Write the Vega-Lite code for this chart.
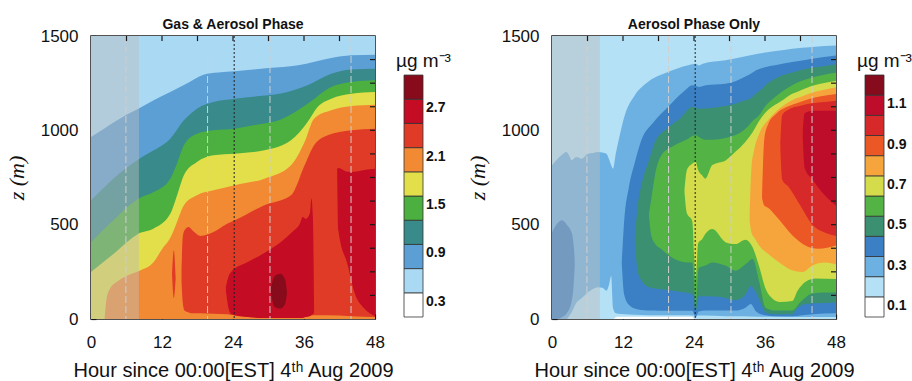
{
  "$schema": "https://vega.github.io/schema/vega-lite/v6.json",
  "background": "white",
  "padding": {"left": 4, "top": 17, "right": 0, "bottom": 0},
  "resolve": {"scale": {"fill": "independent"}},
  "datasets": {
    "L": [
      {"p":"a","c":1,"t":0,"lo":0,"hi":1500},{"p":"a","c":1,"t":48,"lo":0,"hi":1500},
      {"p":"b","c":2,"t":0,"lo":0,"hi":965},{"p":"b","c":2,"t":2,"lo":0,"hi":1005},{"p":"b","c":2,"t":4,"lo":0,"hi":1045},{"p":"b","c":2,"t":6,"lo":0,"hi":1082},{"p":"b","c":2,"t":8,"lo":0,"hi":1115},{"p":"b","c":2,"t":10.6,"lo":0,"hi":1159},{"p":"b","c":2,"t":13.4,"lo":0,"hi":1203},{"p":"b","c":2,"t":16.2,"lo":0,"hi":1248},{"p":"b","c":2,"t":19,"lo":0,"hi":1295},{"p":"b","c":2,"t":21.5,"lo":0,"hi":1306},{"p":"b","c":2,"t":24.3,"lo":0,"hi":1313},{"p":"b","c":2,"t":30,"lo":0,"hi":1330},{"p":"b","c":2,"t":35,"lo":0,"hi":1345},{"p":"b","c":2,"t":40.6,"lo":0,"hi":1384},{"p":"b","c":2,"t":44,"lo":0,"hi":1398},{"p":"b","c":2,"t":48,"lo":0,"hi":1401},
      {"p":"c","c":3,"t":0,"lo":0,"hi":629},{"p":"c","c":3,"t":2,"lo":0,"hi":690},{"p":"c","c":3,"t":4,"lo":0,"hi":750},{"p":"c","c":3,"t":6,"lo":0,"hi":800},{"p":"c","c":3,"t":8,"lo":0,"hi":845},{"p":"c","c":3,"t":10.6,"lo":0,"hi":894},{"p":"c","c":3,"t":13.4,"lo":0,"hi":956},{"p":"c","c":3,"t":15.7,"lo":0,"hi":1053},{"p":"c","c":3,"t":17.9,"lo":0,"hi":1115},{"p":"c","c":3,"t":20.7,"lo":0,"hi":1150},{"p":"c","c":3,"t":24.3,"lo":0,"hi":1168},{"p":"c","c":3,"t":28,"lo":0,"hi":1180},{"p":"c","c":3,"t":32.1,"lo":0,"hi":1195},{"p":"c","c":3,"t":36.6,"lo":0,"hi":1239},{"p":"c","c":3,"t":40.6,"lo":0,"hi":1300},{"p":"c","c":3,"t":44,"lo":0,"hi":1323},{"p":"c","c":3,"t":48,"lo":0,"hi":1327},
      {"p":"d","c":4,"t":0,"lo":0,"hi":405},{"p":"d","c":4,"t":2,"lo":0,"hi":470},{"p":"d","c":4,"t":4,"lo":0,"hi":530},{"p":"d","c":4,"t":6,"lo":0,"hi":590},{"p":"d","c":4,"t":8,"lo":0,"hi":638},{"p":"d","c":4,"t":10.6,"lo":0,"hi":673},{"p":"d","c":4,"t":13.4,"lo":0,"hi":744},{"p":"d","c":4,"t":14.6,"lo":0,"hi":830},{"p":"d","c":4,"t":15.7,"lo":0,"hi":921},{"p":"d","c":4,"t":17.9,"lo":0,"hi":982},{"p":"d","c":4,"t":20.7,"lo":0,"hi":1000},{"p":"d","c":4,"t":24.3,"lo":0,"hi":1009},{"p":"d","c":4,"t":28,"lo":0,"hi":1030},{"p":"d","c":4,"t":32.1,"lo":0,"hi":1058},{"p":"d","c":4,"t":36.6,"lo":0,"hi":1141},{"p":"d","c":4,"t":40.6,"lo":0,"hi":1230},{"p":"d","c":4,"t":44,"lo":0,"hi":1256},{"p":"d","c":4,"t":48,"lo":0,"hi":1265},
      {"p":"e","c":5,"t":0,"lo":0,"hi":249},{"p":"e","c":5,"t":2,"lo":0,"hi":300},{"p":"e","c":5,"t":4,"lo":0,"hi":350},{"p":"e","c":5,"t":6,"lo":0,"hi":405},{"p":"e","c":5,"t":8,"lo":0,"hi":452},{"p":"e","c":5,"t":10.6,"lo":0,"hi":480},{"p":"e","c":5,"t":13.4,"lo":0,"hi":558},{"p":"e","c":5,"t":14.6,"lo":0,"hi":660},{"p":"e","c":5,"t":15.7,"lo":0,"hi":762},{"p":"e","c":5,"t":17.9,"lo":0,"hi":832},{"p":"e","c":5,"t":20.7,"lo":0,"hi":868},{"p":"e","c":5,"t":24.3,"lo":0,"hi":876},{"p":"e","c":5,"t":29.3,"lo":0,"hi":894},{"p":"e","c":5,"t":33.8,"lo":0,"hi":947},{"p":"e","c":5,"t":36.6,"lo":0,"hi":1044},{"p":"e","c":5,"t":38.3,"lo":0,"hi":1124},{"p":"e","c":5,"t":40.6,"lo":0,"hi":1168},{"p":"e","c":5,"t":44,"lo":0,"hi":1194},{"p":"e","c":5,"t":48,"lo":0,"hi":1203},
      {"p":"f","c":6,"t":2.3,"lo":0,"hi":0},{"p":"f","c":6,"t":2.6,"lo":0,"hi":100},{"p":"f","c":6,"t":3.2,"lo":0,"hi":160},{"p":"f","c":6,"t":4.5,"lo":0,"hi":200},{"p":"f","c":6,"t":6,"lo":0,"hi":228},{"p":"f","c":6,"t":8,"lo":0,"hi":253},{"p":"f","c":6,"t":10.6,"lo":0,"hi":302},{"p":"f","c":6,"t":12,"lo":0,"hi":370},{"p":"f","c":6,"t":13.4,"lo":0,"hi":430},{"p":"f","c":6,"t":14.6,"lo":0,"hi":520},{"p":"f","c":6,"t":15.7,"lo":0,"hi":603},{"p":"f","c":6,"t":17.9,"lo":0,"hi":656},{"p":"f","c":6,"t":20.7,"lo":0,"hi":682},{"p":"f","c":6,"t":24.3,"lo":0,"hi":709},{"p":"f","c":6,"t":29.3,"lo":0,"hi":744},{"p":"f","c":6,"t":33.8,"lo":0,"hi":815},{"p":"f","c":6,"t":36.1,"lo":0,"hi":938},{"p":"f","c":6,"t":37.7,"lo":0,"hi":1062},{"p":"f","c":6,"t":40.6,"lo":0,"hi":1106},{"p":"f","c":6,"t":44,"lo":0,"hi":1129},{"p":"f","c":6,"t":48,"lo":0,"hi":1136},
      {"p":"g","c":7,"t":15.3,"lo":200,"hi":260},{"p":"g","c":7,"t":15.5,"lo":90,"hi":430},{"p":"g","c":7,"t":15.8,"lo":45,"hi":470},{"p":"g","c":7,"t":16.5,"lo":35,"hi":488},{"p":"g","c":7,"t":17.3,"lo":30,"hi":465},{"p":"g","c":7,"t":18.5,"lo":30,"hi":440},{"p":"g","c":7,"t":20.7,"lo":28,"hi":461},{"p":"g","c":7,"t":23,"lo":25,"hi":505},{"p":"g","c":7,"t":24.3,"lo":20,"hi":523},{"p":"g","c":7,"t":29.3,"lo":10,"hi":603},{"p":"g","c":7,"t":33.8,"lo":10,"hi":656},{"p":"g","c":7,"t":36.1,"lo":15,"hi":815},{"p":"g","c":7,"t":37.7,"lo":20,"hi":921},{"p":"g","c":7,"t":40,"lo":20,"hi":974},{"p":"g","c":7,"t":44,"lo":15,"hi":1000},{"p":"g","c":7,"t":48,"lo":10,"hi":1009},
      {"p":"h","c":7,"t":13.7,"lo":230,"hi":240},{"p":"h","c":7,"t":14,"lo":110,"hi":364},{"p":"h","c":7,"t":14.3,"lo":210,"hi":225},
      {"p":"i","c":8,"t":22.8,"lo":150,"hi":170},{"p":"i","c":8,"t":23.3,"lo":50,"hi":230},{"p":"i","c":8,"t":23.7,"lo":25,"hi":250},{"p":"i","c":8,"t":26.5,"lo":10,"hi":302},{"p":"i","c":8,"t":29.3,"lo":5,"hi":350},{"p":"i","c":8,"t":32.1,"lo":5,"hi":408},{"p":"i","c":8,"t":34,"lo":5,"hi":461},{"p":"i","c":8,"t":35.3,"lo":5,"hi":505},{"p":"i","c":8,"t":35.8,"lo":5,"hi":540},{"p":"i","c":8,"t":36.3,"lo":10,"hi":530},{"p":"i","c":8,"t":37,"lo":15,"hi":560},{"p":"i","c":8,"t":37.25,"lo":20,"hi":640},{"p":"i","c":8,"t":37.5,"lo":25,"hi":540},{"p":"i","c":8,"t":37.7,"lo":30,"hi":60},
      {"p":"j","c":8,"t":41.6,"lo":780,"hi":795},{"p":"j","c":8,"t":41.8,"lo":470,"hi":800},{"p":"j","c":8,"t":43.4,"lo":284,"hi":780},{"p":"j","c":8,"t":44.5,"lo":143,"hi":781},{"p":"j","c":8,"t":46.2,"lo":55,"hi":790},{"p":"j","c":8,"t":48,"lo":15,"hi":797},
      {"p":"k","c":9,"t":30.4,"lo":140,"hi":160},{"p":"k","c":9,"t":31,"lo":65,"hi":225},{"p":"k","c":9,"t":32,"lo":55,"hi":240},{"p":"k","c":9,"t":32.8,"lo":80,"hi":210},{"p":"k","c":9,"t":33.1,"lo":130,"hi":150}
    ],
    "R": [
      {"p":"A","c":1,"t":0,"lo":0,"hi":1500},{"p":"A","c":1,"t":48,"lo":0,"hi":1500},
      {"p":"B","c":0,"t":10.4,"lo":0,"hi":0},{"p":"B","c":0,"t":11,"lo":0,"hi":12},{"p":"B","c":0,"t":23.6,"lo":0,"hi":12},{"p":"B","c":0,"t":24.1,"lo":0,"hi":0},
      {"p":"C","c":2,"t":0,"lo":0,"hi":815},{"p":"C","c":2,"t":1.6,"lo":0,"hi":868},{"p":"C","c":2,"t":2.4,"lo":0,"hi":885},{"p":"C","c":2,"t":3,"lo":20,"hi":860},{"p":"C","c":2,"t":3.3,"lo":35,"hi":841},{"p":"C","c":2,"t":4.1,"lo":85,"hi":859},{"p":"C","c":2,"t":5,"lo":110,"hi":850},{"p":"C","c":2,"t":6.1,"lo":142,"hi":876},{"p":"C","c":2,"t":7,"lo":160,"hi":880},{"p":"C","c":2,"t":7.8,"lo":168,"hi":885},{"p":"C","c":2,"t":8.5,"lo":165,"hi":882},{"p":"C","c":2,"t":9.2,"lo":150,"hi":876},{"p":"C","c":2,"t":9.7,"lo":190,"hi":841},{"p":"C","c":2,"t":10,"lo":228,"hi":815},{"p":"C","c":2,"t":10.3,"lo":60,"hi":797},{"p":"C","c":2,"t":10.8,"lo":30,"hi":880},{"p":"C","c":2,"t":11.2,"lo":28,"hi":938},{"p":"C","c":2,"t":12.3,"lo":25,"hi":1080},{"p":"C","c":2,"t":14,"lo":22,"hi":1186},{"p":"C","c":2,"t":16.2,"lo":20,"hi":1256},{"p":"C","c":2,"t":19.6,"lo":20,"hi":1309},{"p":"C","c":2,"t":23,"lo":20,"hi":1345},{"p":"C","c":2,"t":24.3,"lo":18,"hi":1353},{"p":"C","c":2,"t":24.8,"lo":18,"hi":1344},{"p":"C","c":2,"t":25.5,"lo":18,"hi":1353},{"p":"C","c":2,"t":29.3,"lo":15,"hi":1371},{"p":"C","c":2,"t":32.1,"lo":15,"hi":1389},{"p":"C","c":2,"t":35,"lo":12,"hi":1407},{"p":"C","c":2,"t":37.8,"lo":12,"hi":1420},{"p":"C","c":2,"t":40.6,"lo":10,"hi":1433},{"p":"C","c":2,"t":44,"lo":10,"hi":1442},{"p":"C","c":2,"t":48,"lo":10,"hi":1449},
      {"p":"D","c":3,"t":0,"lo":0,"hi":460},{"p":"D","c":3,"t":1,"lo":0,"hi":510},{"p":"D","c":3,"t":1.7,"lo":10,"hi":523},{"p":"D","c":3,"t":2.5,"lo":30,"hi":500},{"p":"D","c":3,"t":3.3,"lo":90,"hi":460},{"p":"D","c":3,"t":3.7,"lo":200,"hi":380},{"p":"D","c":3,"t":3.85,"lo":290,"hi":300},
      {"p":"E","c":3,"t":11.8,"lo":290,"hi":310},{"p":"E","c":3,"t":12.2,"lo":130,"hi":520},{"p":"E","c":3,"t":13,"lo":75,"hi":700},{"p":"E","c":3,"t":14,"lo":55,"hi":830},{"p":"E","c":3,"t":15.1,"lo":48,"hi":947},{"p":"E","c":3,"t":17.2,"lo":45,"hi":1044},{"p":"E","c":3,"t":19.6,"lo":44,"hi":1124},{"p":"E","c":3,"t":22.5,"lo":44,"hi":1212},{"p":"E","c":3,"t":23.7,"lo":44,"hi":1239},{"p":"E","c":3,"t":24.3,"lo":10,"hi":1236},{"p":"E","c":3,"t":24.8,"lo":40,"hi":1230},{"p":"E","c":3,"t":26,"lo":45,"hi":1239},{"p":"E","c":3,"t":29.3,"lo":45,"hi":1247},{"p":"E","c":3,"t":31,"lo":45,"hi":1260},{"p":"E","c":3,"t":32.7,"lo":60,"hi":1285},{"p":"E","c":3,"t":33.6,"lo":80,"hi":1300},{"p":"E","c":3,"t":34.5,"lo":40,"hi":1318},{"p":"E","c":3,"t":36,"lo":20,"hi":1335},{"p":"E","c":3,"t":37.7,"lo":15,"hi":1345},{"p":"E","c":3,"t":40.6,"lo":15,"hi":1362},{"p":"E","c":3,"t":44,"lo":25,"hi":1380},{"p":"E","c":3,"t":48,"lo":30,"hi":1396},
      {"p":"F","c":4,"t":14,"lo":410,"hi":430},{"p":"F","c":4,"t":14.5,"lo":250,"hi":600},{"p":"F","c":4,"t":15.2,"lo":200,"hi":720},{"p":"F","c":4,"t":16.3,"lo":170,"hi":832},{"p":"F","c":4,"t":17.4,"lo":162,"hi":938},{"p":"F","c":4,"t":19.4,"lo":155,"hi":1009},{"p":"F","c":4,"t":21.6,"lo":145,"hi":1062},{"p":"F","c":4,"t":23.7,"lo":133,"hi":1124},{"p":"F","c":4,"t":24.3,"lo":40,"hi":1120},{"p":"F","c":4,"t":24.8,"lo":120,"hi":1115},{"p":"F","c":4,"t":28.2,"lo":118,"hi":1124},{"p":"F","c":4,"t":31,"lo":100,"hi":1141},{"p":"F","c":4,"t":32.7,"lo":130,"hi":1160},{"p":"F","c":4,"t":33.6,"lo":175,"hi":1170},{"p":"F","c":4,"t":34.3,"lo":150,"hi":1190},{"p":"F","c":4,"t":35.5,"lo":70,"hi":1221},{"p":"F","c":4,"t":36.1,"lo":35,"hi":1240},{"p":"F","c":4,"t":37.7,"lo":25,"hi":1274},{"p":"F","c":4,"t":40.6,"lo":25,"hi":1306},{"p":"F","c":4,"t":41.5,"lo":60,"hi":1315},{"p":"F","c":4,"t":43,"lo":80,"hi":1327},{"p":"F","c":4,"t":46,"lo":85,"hi":1340},{"p":"F","c":4,"t":48,"lo":88,"hi":1350},
      {"p":"G","c":5,"t":16.4,"lo":540,"hi":560},{"p":"G","c":5,"t":16.8,"lo":440,"hi":640},{"p":"G","c":5,"t":17.4,"lo":400,"hi":762},{"p":"G","c":5,"t":18.5,"lo":370,"hi":868},{"p":"G","c":5,"t":20.7,"lo":318,"hi":921},{"p":"G","c":5,"t":23,"lo":300,"hi":956},{"p":"G","c":5,"t":23.7,"lo":300,"hi":970},{"p":"G","c":5,"t":24.3,"lo":80,"hi":974},{"p":"G","c":5,"t":24.8,"lo":270,"hi":965},{"p":"G","c":5,"t":25.9,"lo":283,"hi":950},{"p":"G","c":5,"t":27.1,"lo":300,"hi":950},{"p":"G","c":5,"t":29.3,"lo":283,"hi":959},{"p":"G","c":5,"t":31,"lo":256,"hi":975},{"p":"G","c":5,"t":32.7,"lo":290,"hi":1009},{"p":"G","c":5,"t":33.9,"lo":318,"hi":1050},{"p":"G","c":5,"t":35,"lo":200,"hi":1080},{"p":"G","c":5,"t":36.1,"lo":60,"hi":1130},{"p":"G","c":5,"t":37.7,"lo":45,"hi":1177},{"p":"G","c":5,"t":40.6,"lo":45,"hi":1239},{"p":"G","c":5,"t":42,"lo":90,"hi":1260},{"p":"G","c":5,"t":44,"lo":135,"hi":1280},{"p":"G","c":5,"t":46,"lo":140,"hi":1295},{"p":"G","c":5,"t":48,"lo":141,"hi":1305},
      {"p":"H","c":6,"t":22.4,"lo":670,"hi":690},{"p":"H","c":6,"t":22.8,"lo":560,"hi":790},{"p":"H","c":6,"t":23.7,"lo":520,"hi":823},{"p":"H","c":6,"t":24.3,"lo":212,"hi":832},{"p":"H","c":6,"t":24.7,"lo":400,"hi":790},{"p":"H","c":6,"t":25.4,"lo":424,"hi":760},{"p":"H","c":6,"t":25.9,"lo":450,"hi":744},{"p":"H","c":6,"t":27.1,"lo":477,"hi":816},{"p":"H","c":6,"t":29.4,"lo":406,"hi":842},{"p":"H","c":6,"t":31,"lo":397,"hi":886},{"p":"H","c":6,"t":32.7,"lo":420,"hi":940},{"p":"H","c":6,"t":33.9,"lo":380,"hi":990},{"p":"H","c":6,"t":35,"lo":280,"hi":1050},{"p":"H","c":6,"t":36.1,"lo":160,"hi":1095},{"p":"H","c":6,"t":37.2,"lo":110,"hi":1125},{"p":"H","c":6,"t":38.5,"lo":90,"hi":1150},{"p":"H","c":6,"t":40.6,"lo":95,"hi":1194},{"p":"H","c":6,"t":41.5,"lo":150,"hi":1205},{"p":"H","c":6,"t":43,"lo":200,"hi":1225},{"p":"H","c":6,"t":44.5,"lo":215,"hi":1240},{"p":"H","c":6,"t":48,"lo":212,"hi":1262},
      {"p":"I","c":7,"t":33.4,"lo":520,"hi":540},{"p":"I","c":7,"t":33.7,"lo":460,"hi":800},{"p":"I","c":7,"t":34.2,"lo":430,"hi":900},{"p":"I","c":7,"t":35,"lo":390,"hi":980},{"p":"I","c":7,"t":36.7,"lo":340,"hi":1060},{"p":"I","c":7,"t":38.4,"lo":300,"hi":1115},{"p":"I","c":7,"t":40.6,"lo":258,"hi":1160},{"p":"I","c":7,"t":42.3,"lo":249,"hi":1180},{"p":"I","c":7,"t":44,"lo":284,"hi":1200},{"p":"I","c":7,"t":46,"lo":300,"hi":1215},{"p":"I","c":7,"t":48,"lo":290,"hi":1228},
      {"p":"J","c":8,"t":35.5,"lo":640,"hi":660},{"p":"J","c":8,"t":35.9,"lo":600,"hi":960},{"p":"J","c":8,"t":36.5,"lo":590,"hi":1030},{"p":"J","c":8,"t":38,"lo":540,"hi":1090},{"p":"J","c":8,"t":40.6,"lo":444,"hi":1135},{"p":"J","c":8,"t":42.8,"lo":390,"hi":1160},{"p":"J","c":8,"t":45,"lo":373,"hi":1178},{"p":"J","c":8,"t":48,"lo":390,"hi":1193},
      {"p":"K","c":9,"t":38.6,"lo":900,"hi":920},{"p":"K","c":9,"t":38.9,"lo":740,"hi":1080},{"p":"K","c":9,"t":40,"lo":700,"hi":1110},{"p":"K","c":9,"t":42,"lo":600,"hi":1130},{"p":"K","c":9,"t":44,"lo":500,"hi":1143},{"p":"K","c":9,"t":46,"lo":460,"hi":1150},{"p":"K","c":9,"t":48,"lo":440,"hi":1157},
      {"p":"M","c":10,"t":42.4,"lo":950,"hi":1000},{"p":"M","c":10,"t":42.7,"lo":800,"hi":1090},{"p":"M","c":10,"t":44,"lo":740,"hi":1104},{"p":"M","c":10,"t":46,"lo":660,"hi":1104},{"p":"M","c":10,"t":48,"lo":600,"hi":1104}
    ],
    "LL": [
      {"c":0,"lo":0,"hi":0.3},{"c":1,"lo":0.3,"hi":0.6},{"c":2,"lo":0.6,"hi":0.9},{"c":3,"lo":0.9,"hi":1.2},{"c":4,"lo":1.2,"hi":1.5},{"c":5,"lo":1.5,"hi":1.8},{"c":6,"lo":1.8,"hi":2.1},{"c":7,"lo":2.1,"hi":2.4},{"c":8,"lo":2.4,"hi":2.7},{"c":9,"lo":2.7,"hi":3.0}
    ],
    "RL": [
      {"c":0,"lo":0,"hi":0.1},{"c":1,"lo":0.1,"hi":0.2},{"c":2,"lo":0.2,"hi":0.3},{"c":3,"lo":0.3,"hi":0.4},{"c":4,"lo":0.4,"hi":0.5},{"c":5,"lo":0.5,"hi":0.6},{"c":6,"lo":0.6,"hi":0.7},{"c":7,"lo":0.7,"hi":0.8},{"c":8,"lo":0.8,"hi":0.9},{"c":9,"lo":0.9,"hi":1.0},{"c":10,"lo":1.0,"hi":1.1},{"c":11,"lo":1.1,"hi":1.2}
    ],
    "LLab": [{"v":0.3},{"v":0.9},{"v":1.5},{"v":2.1},{"v":2.7}],
    "RLab": [{"v":0.1},{"v":0.3},{"v":0.5},{"v":0.7},{"v":0.9},{"v":1.1}],
    "OV": [{"a":0,"b":8.1,"z0":0,"z1":1500}],
    "VG": [{"t":5.9},{"t":19.7},{"t":30.25},{"t":43.95}],
    "VK": [{"t":24.2}],
    "TX": [{"t":6},{"t":12},{"t":18},{"t":24},{"t":30},{"t":36},{"t":42}],
    "TZ": [{"z":125},{"z":250},{"z":375},{"z":500},{"z":625},{"z":750},{"z":875},{"z":1000},{"z":1125},{"z":1250},{"z":1375}]
  },
  "hconcat": [
    {
      "spacing": 1,
      "resolve": {"scale": {"fill": "shared"}},
      "hconcat": [
        {
          "width": 284, "height": 283,
          "title": {"text": "Gas & Aerosol Phase"},
          "layer": [
            {
              "data": {"name": "L"},
              "mark": {"type": "area", "interpolate": "monotone", "clip": true, "opacity": 1},
              "encoding": {
                "x": {"field": "t", "type": "quantitative", "scale": {"domain": [0, 48], "nice": false, "zero": false},
                  "axis": {"values": [0,6,12,18,24,30,36,42,48], "labelExpr": "datum.value % 12 === 0 ? datum.label : ''", "labelFlush": false, "labelOverlap": false, "labelPadding": 20, "labelFontSize": 17, "title": "Hour since 00:00[EST] 4ᵗʰ Aug 2009", "titleFontSize": 20, "titleFontWeight": "normal", "titlePadding": 10}},
                "y": {"field": "lo", "type": "quantitative", "stack": null, "scale": {"domain": [0, 1500], "nice": false},
                  "axis": {"values": [0,125,250,375,500,625,750,875,1000,1125,1250,1375,1500], "labelExpr": "datum.value % 500 === 0 ? datum.label : ''", "format": "d", "labelPadding": 18, "labelFontSize": 17, "title": "z (m)", "titleFont": "Liberation Serif", "titleFontStyle": "italic", "titleFontSize": 22, "titleFontWeight": "normal", "titlePadding": 12}},
                "y2": {"field": "hi"},
                "fill": {"field": "c", "type": "ordinal", "legend": null,
                  "scale": {"domain": [0,1,2,3,4,5,6,7,8,9], "range": ["#ffffff","#aad9f4","#5b9fd5","#398a8b","#4bb03f","#e2df4b","#f28a34","#e03b27","#c40c24","#870b1a"]}},
                "detail": {"field": "p", "type": "nominal"}
              }
            },
            {
              "data": {"name": "OV"},
              "mark": {"type": "rect", "fill": "#bdbdbd", "opacity": 0.45},
              "encoding": {
                "x": {"field": "a", "type": "quantitative"},
                "x2": {"field": "b"},
                "y": {"field": "z0", "type": "quantitative"},
                "y2": {"field": "z1"}
              }
            },
            {
              "data": {"name": "VG"},
              "mark": {"type": "rule", "color": "#cfcfcf", "strokeDash": [7, 3], "strokeWidth": 1},
              "encoding": {"x": {"field": "t", "type": "quantitative"}}
            },
            {
              "data": {"name": "VK"},
              "mark": {"type": "rule", "color": "#222222", "strokeDash": [2, 2], "strokeWidth": 1},
              "encoding": {"x": {"field": "t", "type": "quantitative"}}
            },
            {
              "data": {"name": "TX"},
              "mark": {"type": "rule", "color": "#1a1a1a", "strokeWidth": 1.2},
              "encoding": {"x": {"field": "t", "type": "quantitative"}, "y": {"datum": 1500}, "y2": {"datum": 1473}}
            },
            {
              "data": {"name": "TZ"},
              "mark": {"type": "rule", "color": "#1a1a1a", "strokeWidth": 1.2},
              "encoding": {"y": {"field": "z", "type": "quantitative"}, "x": {"datum": 48}, "x2": {"datum": 47.15}}
            }
          ]
        },
        {
          "width": 19, "height": 283,
          "view": {"stroke": null},
          "layer": [
            {
              "data": {"name": "LL"},
              "mark": {"type": "rect", "stroke": "#333333", "strokeWidth": 0.8},
              "encoding": {
                "x": {"datum": 0, "type": "quantitative", "scale": {"domain": [0, 1]}, "axis": null},
                "x2": {"datum": 1},
                "y": {"field": "lo", "type": "quantitative", "scale": {"domain": [-0.0248, 3.484], "nice": false, "zero": false}, "axis": null},
                "y2": {"field": "hi"},
                "fill": {"field": "c", "type": "ordinal", "legend": null,
                  "scale": {"domain": [0,1,2,3,4,5,6,7,8,9], "range": ["#ffffff","#aad9f4","#5b9fd5","#398a8b","#4bb03f","#e2df4b","#f28a34","#e03b27","#c40c24","#870b1a"]}}
              }
            },
            {
              "data": {"name": "LLab"},
              "mark": {"type": "text", "align": "left", "baseline": "top", "dx": 3, "dy": 2, "fontWeight": "bold", "fontSize": 14, "color": "#111"},
              "encoding": {
                "x": {"datum": 1, "type": "quantitative"},
                "y": {"field": "v", "type": "quantitative"},
                "text": {"field": "v", "type": "quantitative", "format": ".1f"}
              }
            },
            {
              "data": {"values": [{}]},
              "mark": {"type": "text", "text": "µg m⁻³", "align": "left", "baseline": "alphabetic", "dx": -8, "dy": -8, "fontSize": 19, "color": "#111"},
              "encoding": {
                "x": {"datum": 0, "type": "quantitative"},
                "y": {"datum": 3.0, "type": "quantitative"}
              }
            }
          ]
        }
      ]
    },
    {
      "spacing": 1,
      "resolve": {"scale": {"fill": "shared"}},
      "hconcat": [
        {
          "width": 284, "height": 283,
          "title": {"text": "Aerosol Phase Only"},
          "layer": [
            {
              "data": {"name": "R"},
              "mark": {"type": "area", "interpolate": "monotone", "clip": true, "opacity": 1},
              "encoding": {
                "x": {"field": "t", "type": "quantitative", "scale": {"domain": [0, 48], "nice": false, "zero": false},
                  "axis": {"values": [0,6,12,18,24,30,36,42,48], "labelExpr": "datum.value % 12 === 0 ? datum.label : ''", "labelFlush": false, "labelOverlap": false, "labelPadding": 20, "labelFontSize": 17, "title": "Hour since 00:00[EST] 4ᵗʰ Aug 2009", "titleFontSize": 20, "titleFontWeight": "normal", "titlePadding": 10}},
                "y": {"field": "lo", "type": "quantitative", "stack": null, "scale": {"domain": [0, 1500], "nice": false},
                  "axis": {"values": [0,125,250,375,500,625,750,875,1000,1125,1250,1375,1500], "labelExpr": "datum.value % 500 === 0 ? datum.label : ''", "format": "d", "labelPadding": 18, "labelFontSize": 17, "title": "z (m)", "titleFont": "Liberation Serif", "titleFontStyle": "italic", "titleFontSize": 22, "titleFontWeight": "normal", "titlePadding": 12}},
                "y2": {"field": "hi"},
                "fill": {"field": "c", "type": "ordinal", "legend": null,
                  "scale": {"domain": [0,1,2,3,4,5,6,7,8,9,10,11], "range": ["#ffffff","#b5e1f6","#6cb1e2","#3b7fc4","#3a9070","#53b445","#d4dc4b","#f6a53c","#ec5825","#d7282a","#be0d2a","#860b1d"]}},
                "detail": {"field": "p", "type": "nominal"}
              }
            },
            {
              "data": {"name": "OV"},
              "mark": {"type": "rect", "fill": "#bdbdbd", "opacity": 0.45},
              "encoding": {
                "x": {"field": "a", "type": "quantitative"},
                "x2": {"field": "b"},
                "y": {"field": "z0", "type": "quantitative"},
                "y2": {"field": "z1"}
              }
            },
            {
              "data": {"name": "VG"},
              "mark": {"type": "rule", "color": "#cfcfcf", "strokeDash": [7, 3], "strokeWidth": 1},
              "encoding": {"x": {"field": "t", "type": "quantitative"}}
            },
            {
              "data": {"name": "VK"},
              "mark": {"type": "rule", "color": "#222222", "strokeDash": [2, 2], "strokeWidth": 1},
              "encoding": {"x": {"field": "t", "type": "quantitative"}}
            },
            {
              "data": {"name": "TX"},
              "mark": {"type": "rule", "color": "#1a1a1a", "strokeWidth": 1.2},
              "encoding": {"x": {"field": "t", "type": "quantitative"}, "y": {"datum": 1500}, "y2": {"datum": 1473}}
            },
            {
              "data": {"name": "TZ"},
              "mark": {"type": "rule", "color": "#1a1a1a", "strokeWidth": 1.2},
              "encoding": {"y": {"field": "z", "type": "quantitative"}, "x": {"datum": 48}, "x2": {"datum": 47.15}}
            }
          ]
        },
        {
          "width": 19, "height": 283,
          "view": {"stroke": null},
          "layer": [
            {
              "data": {"name": "RL"},
              "mark": {"type": "rect", "stroke": "#333333", "strokeWidth": 0.8},
              "encoding": {
                "x": {"datum": 0, "type": "quantitative", "scale": {"domain": [0, 1]}, "axis": null},
                "x2": {"datum": 1},
                "y": {"field": "lo", "type": "quantitative", "scale": {"domain": [-0.0099, 1.3934], "nice": false, "zero": false}, "axis": null},
                "y2": {"field": "hi"},
                "fill": {"field": "c", "type": "ordinal", "legend": null,
                  "scale": {"domain": [0,1,2,3,4,5,6,7,8,9,10,11], "range": ["#ffffff","#b5e1f6","#6cb1e2","#3b7fc4","#3a9070","#53b445","#d4dc4b","#f6a53c","#ec5825","#d7282a","#be0d2a","#860b1d"]}}
              }
            },
            {
              "data": {"name": "RLab"},
              "mark": {"type": "text", "align": "left", "baseline": "top", "dx": 3, "dy": 2, "fontWeight": "bold", "fontSize": 14, "color": "#111"},
              "encoding": {
                "x": {"datum": 1, "type": "quantitative"},
                "y": {"field": "v", "type": "quantitative"},
                "text": {"field": "v", "type": "quantitative", "format": ".1f"}
              }
            },
            {
              "data": {"values": [{}]},
              "mark": {"type": "text", "text": "µg m⁻³", "align": "left", "baseline": "alphabetic", "dx": -8, "dy": -8, "fontSize": 19, "color": "#111"},
              "encoding": {
                "x": {"datum": 0, "type": "quantitative"},
                "y": {"datum": 1.2, "type": "quantitative"}
              }
            }
          ]
        }
      ]
    }
  ],
  "spacing": 14,
  "config": {
    "font": "Liberation Sans",
    "view": {"stroke": "#1a1a1a", "strokeWidth": 1.5},
    "axis": {"grid": false, "domain": false, "tickSize": -5, "tickColor": "#1a1a1a", "tickWidth": 1.2, "labelColor": "#111111", "titleColor": "#111111", "labelFont": "Liberation Sans"},
    "title": {"font": "Liberation Sans", "fontSize": 14, "fontWeight": "bold", "baseline": "alphabetic", "offset": -5, "color": "#111111"}
  }
}
